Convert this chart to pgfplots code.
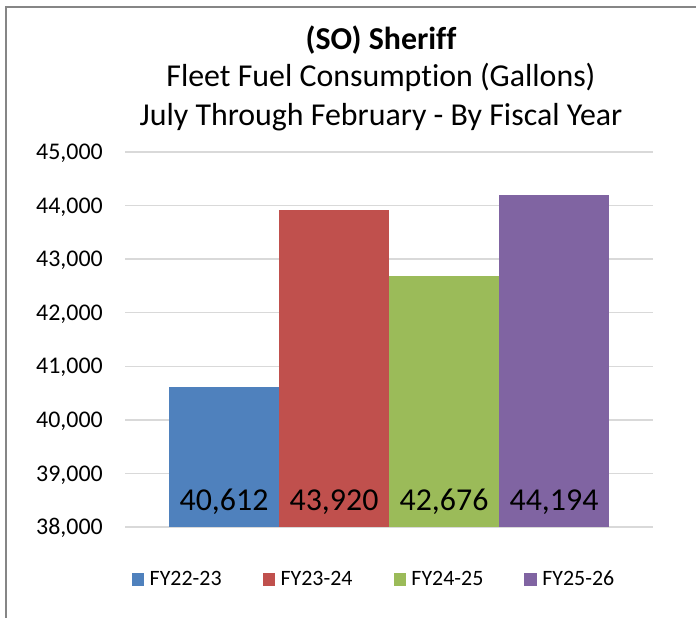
\documentclass[border=0pt]{standalone}
\usepackage{fontspec}
\setmainfont{Carlito}[Ligatures={NoCommon,NoContextual}, RawFeature={-liga;-clig;-dlig;-calt}]
\usepackage{pgfplots}
\pgfplotsset{compat=1.18}
\definecolor{cBlue}{HTML}{4F81BD}
\definecolor{cRed}{HTML}{C0504D}
\definecolor{cGreen}{HTML}{9BBB59}
\definecolor{cPurple}{HTML}{8064A2}
\definecolor{cGrid}{HTML}{D9D9D9}
\definecolor{cBorder}{HTML}{868686}
\begin{document}
\begin{tikzpicture}
\path[use as bounding box] (0,0) rectangle (696bp,618bp);
\draw[cBorder, line width=2bp] (6bp,0) -- (6bp,610.5bp) -- (696bp,610.5bp);
\node[anchor=base, font=\fontsize{32}{38}\selectfont\bfseries] at (381bp,568bp) {(SO) Sheriff};
\node[anchor=base, font=\fontsize{32}{38}\selectfont] at (381bp,531bp) {Fleet Fuel Consump{}tion (Gallons)};
\node[anchor=base, font=\fontsize{32}{38}\selectfont] at (381bp,492bp) {July Through February - By Fiscal Year};
\begin{axis}[
  at={(125bp,91bp)}, anchor=south west,
  scale only axis, width=528bp, height=375bp,
  xmin=-0.9, xmax=3.9, ymin=38000, ymax=45000,
  ytick distance=1000, xtick=\empty,
  scaled y ticks=false,
  ymajorgrids, grid style={cGrid, line width=1.5bp},
  axis line style={draw=none}, major tick length=0pt,
  /pgf/number format/assume math mode=true,
  /pgf/number format/1000 sep={,},
  yticklabel style={font=\fontsize{24}{28}\selectfont, anchor=base east, inner sep=0pt, xshift=-22bp, yshift=-7.7bp,
    /pgf/number format/fixed, /pgf/number format/precision=0},
  legend columns=4,
  legend style={draw=none, fill=none, at={(0.4716,-0.1387)}, anchor=center,
    font=\fontsize{22}{26}\selectfont, inner sep=0pt,
    /tikz/every even column/.append style={column sep=39bp}},
  legend image code/.code={\fill[#1,draw=none] (0bp,-6.5bp) rectangle (12.5bp,6bp); \path (16bp,0bp);},
  clip=false,
]
\addplot[ybar, bar width=110bp, fill=cBlue, draw=none] coordinates {(0,40612)};
\addlegendentry{FY22-23}
\addplot[ybar, bar width=110bp, fill=cRed, draw=none] coordinates {(1,43920)};
\addlegendentry{FY23-24}
\addplot[ybar, bar width=110bp, fill=cGreen, draw=none] coordinates {(2,42676)};
\addlegendentry{FY24-25}
\addplot[ybar, bar width=110bp, fill=cPurple, draw=none] coordinates {(3,44194)};
\addlegendentry{FY25-26}
\addplot[draw=none, mark=none, forget plot, nodes near coords, point meta=explicit,
  every node near coord/.append style={anchor=base, yshift=17bp, font=\fontsize{32}{38}\selectfont, text=black}]
  coordinates {(0,38000) [40612] (1,38000) [43920] (2,38000) [42676] (3,38000) [44194]};
\end{axis}
\end{tikzpicture}
\end{document}
